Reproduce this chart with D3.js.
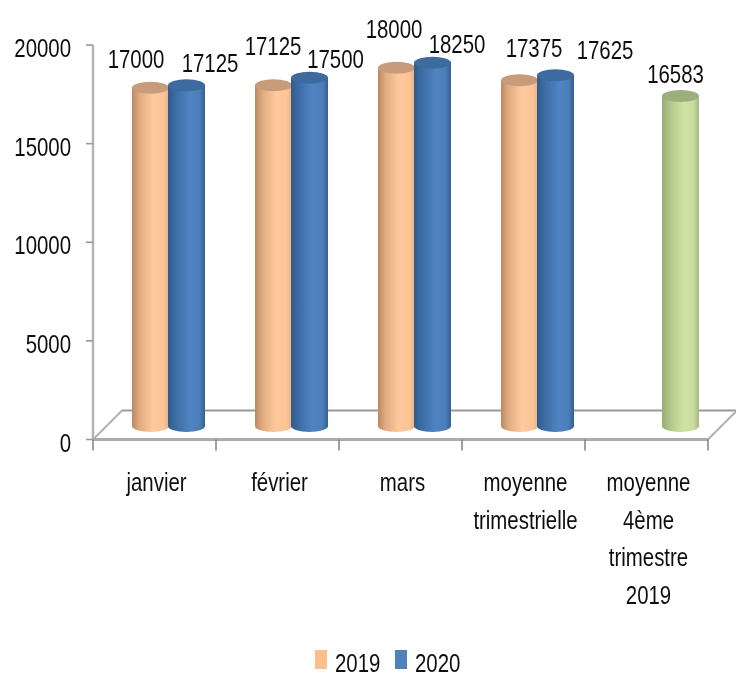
<!DOCTYPE html>
<html><head><meta charset="utf-8">
<script src="https://cdn.jsdelivr.net/npm/d3@7"></script>
<style>html,body{margin:0;background:#fff}svg{display:block}text{font-family:"Liberation Sans",sans-serif;fill:#111}</style>
</head><body><svg id="c" width="736" height="673"></svg>
<script>
const categories=["janvier","février","mars","moyenne trimestrielle","moyenne 4ème trimestre 2019"];
const categoryLines=[["janvier"],["février"],["mars"],["moyenne","trimestrielle"],["moyenne","4ème","trimestre","2019"]];
const series2019=[17000,17125,18000,17375,null];
const series2020=[17125,17500,18250,17625,null];
const seriesQ4=[null,null,null,null,16583];
const yTicks=[0,5000,10000,15000,20000];
const legendYears=["2019","2020"];

const svg=d3.select("#c"),defs=svg.append("defs");
const y=d3.scaleLinear().domain([0,20000]).range([439.5,45]);
const barY=d3.scaleLinear().domain([0,20000]).range([426,28]);
const x=d3.scaleBand().domain(categories).range([93,708]);
const depth=29,barW=37,ry=6,fs=25.5,sx=.8;
defs.append("filter").attr("id","soft").append("feGaussianBlur").attr("stdDeviation",0.55);
function grad(id,stops){const g=defs.append("linearGradient").attr("id",id);
 stops.forEach(([o,c])=>g.append("stop").attr("offset",o).attr("stop-color",c));}
grad("o",[[0,"#b98a63"],[.2,"#e0ab7f"],[.55,"#fdc99c"],[.85,"#fcc497"],[1,"#e9b184"]]);
grad("b",[[0,"#2f5c8e"],[.25,"#3f6fa8"],[.6,"#5084c2"],[.85,"#4c7eb9"],[1,"#34608f"]]);
grad("g",[[0,"#97ad74"],[.25,"#b4ca8c"],[.6,"#d0e3a3"],[.85,"#c9dc9b"],[1,"#a3b97f"]]);
const root=svg.append("g").attr("filter","url(#soft)");
function txt(px,py,s,anchor){
 root.append("text").attr("transform",`translate(${px},${py}) scale(${sx},1)`).attr("text-anchor",anchor||"middle").attr("font-size",fs).text(s);
}

// floor and axes
const left=x.range()[0],right=x.range()[1],y0=y(0);
root.append("path").attr("d",`M${left+depth},${y0-depth}H${right+depth}`).attr("stroke","#999").attr("stroke-width",2.2).attr("fill","none");
root.append("path").attr("d",`M${left},${y0}L${left+depth},${y0-depth}M${right},${y0}L${right+depth},${y0-depth}`).attr("stroke","#b0b0b0").attr("stroke-width",2).attr("fill","none");
root.append("path").attr("d",`M${left},${y0}H${right}`).attr("stroke","#ababab").attr("stroke-width",3).attr("fill","none");
root.append("path").attr("d",`M${left},${y(20000)}V${y0+1}`).attr("stroke","#b5b5b5").attr("stroke-width",2.5).attr("fill","none");
yTicks.forEach(t=>{
 root.append("line").attr("x1",left-7).attr("x2",left).attr("y1",y(t)).attr("y2",y(t)).attr("stroke","#999").attr("stroke-width",1.6);
 txt(71,y(t)+12,t,"end");
});
[...categories.map(c=>x(c)),right].forEach(px=>root.append("line").attr("x1",px).attr("x2",px).attr("y1",y0).attr("y2",y0+11).attr("stroke","#808080").attr("stroke-width",1.5));

// cylinders
function cyl(cx,v,fill,top){
 const t=barY(v),b=barY(0),hw=barW/2;
 root.append("path").attr("d",`M${cx-hw},${t}V${b}A${hw},${ry} 0 0 0 ${cx+hw},${b}V${t}Z`).attr("fill",`url(#${fill})`);
 root.append("ellipse").attr("cx",cx).attr("cy",t).attr("rx",hw).attr("ry",ry).attr("fill",top);
}
const labelNudge=[[-14.5,-19.7],[23.5,-13.2],[-.5,-30.2],[26,-9.75],[-2.5,-29.8],[24.5,-9.8],[14.5,-23.2],[49.5,-16.2],[-5,-13]];
let n=0;
function label(cx,v){const [dx,dy]=labelNudge[n++];txt(cx+dx,barY(v)+dy,v);}
categories.forEach((c,i)=>{
 const mid=x(c)+x.bandwidth()/2, m=mid+14;
 if(series2019[i]!=null)cyl(m-18,series2019[i],"o","#c79c7a");
 if(series2020[i]!=null)cyl(m+18,series2020[i],"b","#3d6a9f");
 if(seriesQ4[i]!=null)cyl(mid+34,seriesQ4[i],"g","#9bb07c");
 if(series2019[i]!=null)label(m-18,series2019[i]);
 if(series2020[i]!=null)label(m+18,series2020[i]);
 if(seriesQ4[i]!=null)label(mid+34,seriesQ4[i]);
 categoryLines[i].forEach((l,k)=>txt(mid+2,491+k*37.5,l));
});
// legend
[["#fbbf8c",315],["#4f81bd",395]].forEach(([col,px],i)=>{
 root.append("rect").attr("x",px).attr("y",650).attr("width",12).attr("height",19).attr("fill",col);
 txt(px+20,672,legendYears[i],"start");
});
</script></body></html>
